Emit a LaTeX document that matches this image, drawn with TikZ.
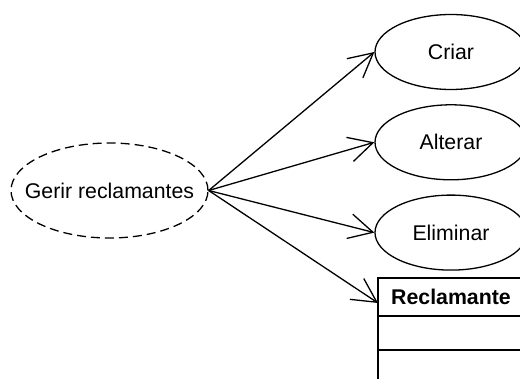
\documentclass[tikz,border=0pt]{standalone}
\usepackage{fontspec}
\setmainfont{Liberation Sans}
\usetikzlibrary{positioning,arrows.meta,shapes.geometric}

\begin{document}
\begin{tikzpicture}[
        x=1pt, y=-1pt,
        font=\fontsize{21.3}{25}\selectfont,
        usecase/.style={draw, ellipse, line width=1.3pt, minimum width=152pt,
                        minimum height=75pt, inner sep=0pt},
        abstract/.style={usecase, dash pattern=on 9pt off 5pt,
                         minimum width=197pt, minimum height=95pt},
        classbox/.style={draw, rectangle, line width=1.3pt, minimum width=146pt,
                         anchor=north west, inner sep=0pt, outer sep=0pt},
        arrow/.style={-{Straight Barb[length=24pt,width=25pt]}, line width=1.3pt},
    ]
        \clip (0,0) rectangle (520,379);
        \node[abstract]                     (gerir)    at (109.5,190.5) {\makebox[0pt]{Gerir reclamantes}};
        \node[usecase]                      (criar)    at (451,52)      {Criar};
        \node[usecase, below=14pt of criar]   (alterar)  {Alterar};
        \node[usecase, below=14pt of alterar] (eliminar) {Eliminar};

        % class box: name, attributes, operations
        \node[classbox, minimum height=38pt, font=\fontsize{21.3}{25}\selectfont\bfseries]
            (reclamante) at (378,278) {Reclamante};
        \node[classbox, minimum height=34pt] (atributos) at (reclamante.south west) {};
        \node[classbox, minimum height=45pt] (operacoes) at (atributos.south west) {};

        \draw[arrow] (gerir.east) -- (criar.west);
        \draw[arrow] (gerir.east) -- (alterar.west);
        \draw[arrow] (gerir.east) -- (eliminar.west);
        \draw[arrow] (gerir.east) -- ([yshift=-6pt]reclamante.west);
    \end{tikzpicture}
\end{document}
